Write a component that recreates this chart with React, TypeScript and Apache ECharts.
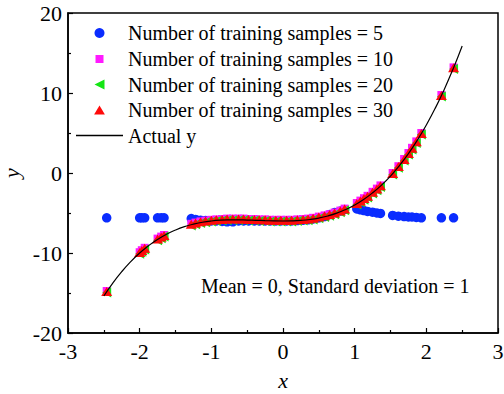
import React, { useEffect, useRef } from "react";
import * as echarts from "echarts";

// Input positions shared by all trained models
const sampleX = [
  -2.46, -2.0, -1.97, -1.93, -1.75, -1.7, -1.66,
  -1.28, -1.22, -1.15, -1.08, -1.0, -0.93, -0.85, -0.78, -0.7, -0.62, -0.55, -0.48, -0.4, -0.33,
  -0.25, -0.18, -0.1, -0.03, 0.05, 0.12, 0.2, 0.28, 0.35, 0.42, 0.5, 0.58, 0.65, 0.72, 0.8, 0.86,
  1.03, 1.08, 1.13, 1.18, 1.25, 1.31, 1.36, 1.53, 1.61, 1.69, 1.75, 1.8, 1.86, 1.93, 2.21, 2.38,
];

// Predictions, 5 training samples
const pred5 = [
  -5.6, -5.6, -5.6, -5.6, -5.6, -5.6, -5.6,
  -5.7, -5.8, -5.9, -5.95, -6.0, -6.0, -6.05, -6.1, -6.1, -6.0, -6.0, -6.0, -6.0, -6.0,
  -6.0, -6.0, -6.0, -6.0, -6.0, -6.0, -5.95, -5.9, -5.85, -5.75, -5.6, -5.45, -5.2, -4.95, -4.75, -4.55,
  -4.5, -4.6, -4.7, -4.8, -4.9, -5.0, -5.05, -5.3, -5.4, -5.45, -5.5, -5.5, -5.55, -5.6, -5.6, -5.6,
];

// Predictions, 10 training samples
const pred10 = [
  -14.75, -9.9, -9.65, -9.35, -8.2, -7.95, -7.75,
  -6.35, -6.2, -6.05, -5.95, -5.85, -5.8, -5.75, -5.7, -5.7, -5.7, -5.7, -5.75, -5.75, -5.8,
  -5.8, -5.85, -5.85, -5.85, -5.85, -5.85, -5.8, -5.75, -5.7, -5.6, -5.45, -5.3, -5.15, -4.95, -4.7, -4.45,
  -3.75, -3.45, -3.15, -2.85, -2.35, -1.95, -1.55, 0.0, 0.85, 1.75, 2.5, 3.15, 3.95, 5.0, 9.75, 13.2,
];

// Predictions, 20 training samples
const pred20 = [
  -14.95, -10.1, -9.85, -9.55, -8.4, -8.15, -7.95,
  -6.55, -6.4, -6.25, -6.15, -6.05, -6.0, -5.95, -5.9, -5.9, -5.9, -5.9, -5.95, -5.95, -6.0,
  -6.0, -6.05, -6.05, -6.05, -6.05, -6.05, -6.0, -5.95, -5.9, -5.8, -5.65, -5.5, -5.35, -5.15, -4.9, -4.65,
  -3.95, -3.65, -3.35, -3.05, -2.55, -2.15, -1.75, -0.2, 0.65, 1.55, 2.3, 2.95, 3.75, 4.8, 9.55, 13.0,
];

// Predictions, 30 training samples
const pred30 = [
  -14.8, -9.95, -9.7, -9.4, -8.25, -8.0, -7.8,
  -6.4, -6.25, -6.1, -6.0, -5.9, -5.85, -5.8, -5.75, -5.75, -5.75, -5.75, -5.8, -5.8, -5.85,
  -5.85, -5.9, -5.9, -5.9, -5.9, -5.9, -5.85, -5.8, -5.75, -5.65, -5.5, -5.35, -5.2, -5.0, -4.75, -4.5,
  -3.8, -3.5, -3.2, -2.9, -2.4, -2.0, -1.6, -0.05, 0.8, 1.7, 2.45, 3.1, 3.9, 4.95, 9.7, 13.15,
];

// Actual response curve
const actualX = [
  -2.5, -2.375, -2.25, -2.125, -2.0, -1.875, -1.75, -1.625, -1.5, -1.375, -1.25, -1.125, -1.0,
  -0.875, -0.75, -0.625, -0.5, -0.375, -0.25, -0.125, 0,
  0.125, 0.25, 0.375, 0.5, 0.625, 0.75, 0.875, 1.0, 1.125, 1.25, 1.375, 1.5, 1.625, 1.75,
  1.875, 2.0, 2.125, 2.25, 2.375, 2.5,
];
const actualY = [
  -15.38, -13.76, -12.33, -11.08, -10.0, -9.08, -8.3, -7.65, -7.13, -6.71, -6.39, -6.16, -6.0,
  -5.9, -5.86, -5.85, -5.88, -5.91, -5.95, -5.99, -6.0,
  -5.98, -5.92, -5.81, -5.63, -5.37, -5.02, -4.56, -4.0, -3.31, -2.48, -1.51, -0.38, 0.93, 2.42,
  4.11, 6.0, 8.11, 10.45, 13.04, 15.88,
];

const seriesNames = [
  "Number of training samples = 5",
  "Number of training samples = 10",
  "Number of training samples = 20",
  "Number of training samples = 30",
  "Actual y",
];

const FONT = "Liberation Serif";

const ICON_SQUARE = "path://M0,0L10,0L10,10L0,10Z";
const ICON_LEFT_TRI = "path://M0,5L10,0L10,10Z";
const ICON_UP_TRI = "path://M6,0L12,10L0,10Z";
const ICON_LINE = "path://M0,0L47,0L47,1.5L0,1.5Z";

const pairs = (xs: number[], ys: number[]) => xs.map((x, i) => [x, ys[i]]);

export default function App() {
  const ref = useRef<HTMLDivElement>(null);

  useEffect(() => {
    if (!ref.current) return;
    const chart = echarts.init(ref.current, null, { renderer: "svg" });

    // Legend rows: icon centre at x = 99.5, text starting at x = 128
    const legendRows = [
      { name: seriesNames[0], icon: "circle", h: 10, w: 10, center: 33 },
      { name: seriesNames[1], icon: ICON_SQUARE, h: 8, w: 8, center: 59 },
      { name: seriesNames[2], icon: ICON_LEFT_TRI, h: 10, w: 10, center: 84.5 },
      { name: seriesNames[3], icon: ICON_UP_TRI, h: 9, w: 10.8, center: 110 },
      { name: seriesNames[4], icon: ICON_LINE, h: 10, w: 47, center: 135.5 },
    ];

    chart.setOption({
      animation: false,
      backgroundColor: "#ffffff",
      textStyle: { fontFamily: FONT },
      grid: {
        left: 68,
        top: 13,
        width: 430,
        height: 320,
        show: true,
        borderColor: "#000",
        borderWidth: 1.5,
        containLabel: false,
        outerBoundsMode: "none",
      },
      legend: legendRows.map((r) => ({
        data: [{ name: r.name, icon: r.icon }],
        left: 99.5 - r.w / 2,
        top: r.center - 10,
        orient: "vertical",
        itemWidth: 47,
        itemHeight: r.h,
        padding: 0,
        selectedMode: false,
        textStyle: { fontSize: 20, fontFamily: FONT, color: "#000" },
      })),
      xAxis: {
        type: "value",
        min: -3,
        max: 3,
        interval: 1,
        name: "x",
        nameLocation: "middle",
        nameGap: 36,
        nameTextStyle: { fontSize: 22, fontStyle: "italic", fontFamily: FONT, color: "#000" },
        axisLine: { show: true, onZero: false, lineStyle: { color: "#000", width: 1.5 } },
        axisTick: { show: true, inside: true, length: 5, lineStyle: { color: "#000", width: 1.2 } },
        minorTick: { show: true, splitNumber: 2, length: 3, lineStyle: { color: "#000", width: 1.2 } },
        splitLine: { show: false },
        axisLabel: { fontSize: 22, color: "#000", fontFamily: FONT, margin: 7 },
      },
      yAxis: {
        type: "value",
        min: -20,
        max: 20,
        interval: 10,
        name: "y",
        nameLocation: "middle",
        nameRotate: 90,
        nameGap: 46,
        nameMoveOverlap: false,
        nameTextStyle: { fontSize: 22, fontStyle: "italic", fontFamily: FONT, color: "#000" },
        axisLine: { show: true, onZero: false, lineStyle: { color: "#000", width: 1.5 } },
        axisTick: { show: true, inside: true, length: 5, lineStyle: { color: "#000", width: 1.2 } },
        minorTick: { show: true, splitNumber: 2, length: 3, lineStyle: { color: "#000", width: 1.2 } },
        splitLine: { show: false },
        axisLabel: { fontSize: 22, color: "#000", fontFamily: FONT, margin: 6 },
      },
      graphic: [
        {
          type: "text",
          left: 201,
          top: 276,
          style: {
            text: "Mean = 0, Standard deviation = 1",
            fontSize: 20,
            fontFamily: FONT,
            fill: "#000",
          },
        },
      ],
      series: [
        {
          name: seriesNames[0],
          type: "scatter",
          symbol: "circle",
          symbolSize: 9.5,
          itemStyle: { color: "#0a2cff", opacity: 1 },
          data: pairs(sampleX, pred5),
          z: 2,
        },
        {
          name: seriesNames[1],
          type: "scatter",
          symbol: ICON_SQUARE,
          symbolSize: 8,
          itemStyle: { color: "#ff1aff", opacity: 1 },
          data: pairs(sampleX, pred10),
          z: 3,
        },
        {
          name: seriesNames[2],
          type: "scatter",
          symbol: ICON_LEFT_TRI,
          symbolSize: [9, 10],
          itemStyle: { color: "#14e614", opacity: 1 },
          data: pairs(sampleX, pred20),
          z: 4,
        },
        {
          name: seriesNames[3],
          type: "scatter",
          symbol: ICON_UP_TRI,
          symbolSize: [11, 9],
          itemStyle: { color: "#ff0a0a", opacity: 1 },
          data: pairs(sampleX, pred30),
          z: 5,
        },
        {
          name: seriesNames[4],
          type: "line",
          showSymbol: false,
          symbol: "none",
          smooth: true,
          lineStyle: { color: "#000", width: 1.2 },
          itemStyle: { color: "#000" },
          data: pairs(actualX, actualY),
          z: 6,
        },
      ],
    });

    return () => chart.dispose();
  }, []);

  return (
    <div
      ref={ref}
      style={{ position: "fixed", left: 0, top: 0, width: 504, height: 394 }}
    />
  );
}
